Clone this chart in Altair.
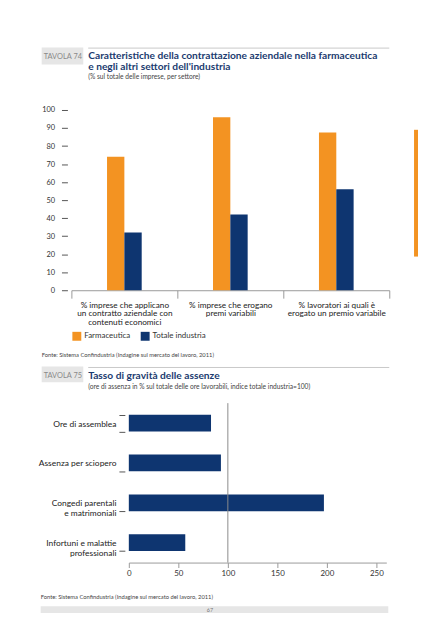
import altair as alt
import pandas as pd

FONT = "Lato"
ORANGE = "#f39322"
NAVY = "#0e3570"
TITLE_NAVY = "#1b3b6f"

# ---- Tavola 74 data ----
top_categories = [
    "% imprese che applicano|un contratto aziendale con|contenuti economici",
    "% imprese che erogano|premi variabili",
    "% lavoratori ai quali è|erogato un premio variabile",
]
series_names = ["Farmaceutica", "Totale industria"]
farmaceutica = [74, 96, 87.5]
totale_industria = [32, 42, 56]

# ---- Tavola 75 data ----
absence_categories = [
    "Ore di assemblea",
    "Assenza per sciopero",
    "Congedi parentali|e matrimoniali",
    "Infortuni e malattie|professionali",
]
absence_values = [83, 93, 197, 57]
reference_value = [100]

top_df = pd.DataFrame({
    "cat": top_categories * 2,
    "series": [series_names[0]] * 3 + [series_names[1]] * 3,
    "value": farmaceutica + totale_industria,
})
bottom_df = pd.DataFrame({"cat": absence_categories, "value": absence_values})
ref_df = pd.DataFrame({"v": reference_value})


def label(text, x, y, size, color, weight="normal", align="left", baseline="alphabetic"):
    return alt.Chart(pd.DataFrame({"t": [text]})).mark_text(
        align=align, baseline=baseline, fontSize=size, color=color,
        fontWeight=weight, font=FONT
    ).encode(x=alt.value(x), y=alt.value(y), text="t:N")


def box(x, x2, y, y2, color):
    return alt.Chart(pd.DataFrame({"d": [0]})).mark_rect(color=color).encode(
        x=alt.value(x), x2=alt.value(x2), y=alt.value(y), y2=alt.value(y2)
    )


def hline(x, x2, y, color):
    return alt.Chart(pd.DataFrame({"d": [0]})).mark_rule(color=color, strokeWidth=1).encode(
        x=alt.value(x), x2=alt.value(x2), y=alt.value(y)
    )


# ---------------- Top chart ----------------
bars_top = alt.Chart(top_df).mark_bar().encode(
    x=alt.X("cat:N", sort=top_categories,
            scale=alt.Scale(paddingInner=0, paddingOuter=0),
            axis=alt.Axis(title=None, labelAngle=0, domainColor="#9a9a9a", tickColor="#9a9a9a",
                          tickBand="extent", tickSize=8, labelPadding=2, labelFontSize=8.3,
                          labelColor="#222", labelExpr="split(datum.label, '|')",
                          labelLineHeight=9, labelBaseline="top")),
    xOffset=alt.XOffset("series:N", sort=series_names,
                        scale=alt.Scale(paddingInner=0, paddingOuter=0, range=[36, 71])),
    y=alt.Y("value:Q", scale=alt.Scale(domain=[0, 100]),
            axis=alt.Axis(title=None, values=list(range(0, 101, 10)), domain=False, grid=False,
                          tickSize=6, offset=4, tickColor="#555", labelPadding=7,
                          labelFontSize=7.5, labelColor="#333")),
    color=alt.Color("series:N",
                    scale=alt.Scale(domain=series_names, range=[ORANGE, NAVY]),
                    legend=alt.Legend(title=None, orient="none", legendX=1, legendY=224,
                                      direction="horizontal", symbolType="square",
                                      symbolSize=81, symbolStrokeWidth=0, labelFontSize=8,
                                      labelColor="#333", labelOffset=3, columnPadding=10)),
)

top = alt.layer(
    box(-30, 12, -63, -46, "#e6e6e6"),
    label("TAVOLA 74", -28, -51.5, 7.5, "#8a8a8a"),
    hline(17, 321, -62.5, "#c8c8c8"),
    label("Caratteristiche della contrattazione aziendale nella farmaceutica", 17, -51, 10.3,
          TITLE_NAVY, weight="bold"),
    label("e negli altri settori dell'industria", 17, -40, 10.3, TITLE_NAVY, weight="bold"),
    label("(% sul totale delle imprese, per settore)", 17, -31, 6.7, "#444"),
    bars_top,
    label("Fonte: Sistema Confindustria (Indagine sul mercato del lavoro, 2011)", -30, 249, 5.85, "#444"),
    box(346, 350, 20, 148, ORANGE),
).properties(width=321, height=182)

# ---------------- Bottom chart ----------------
bars_bottom = alt.Chart(bottom_df).mark_bar(color=NAVY).encode(
    y=alt.Y("cat:N", sort=absence_categories,
            scale=alt.Scale(paddingInner=0.58, paddingOuter=0.29),
            axis=alt.Axis(title=None, domain=False, tickBand="extent", tickSize=6, offset=-54,
                          tickColor="#555", labelPadding=3, labelFontSize=8.5, labelColor="#222",
                          labelExpr="split(datum.label, '|')", labelLineHeight=9.5)),
    x=alt.X("value:Q", scale=alt.Scale(domain=[0, 250], range=[58, 318]),
            axis=alt.Axis(title=None, values=[0, 50, 100, 150, 200, 250], grid=False,
                          domainColor="#9a9a9a", tickColor="#9a9a9a", tickSize=5,
                          labelPadding=2, labelFontSize=8, labelColor="#333", labelFlush=False)),
)
rule = alt.Chart(ref_df).mark_rule(color="#8c8c8c", strokeWidth=1).encode(x="v:Q")

bottom = alt.layer(
    box(-30, 12, -37, -21, "#e6e6e6"),
    label("TAVOLA 75", -28, -25.5, 7.5, "#8a8a8a"),
    hline(17, 321, -36, "#c8c8c8"),
    label("Tasso di gravità delle assenze", 17, -24.5, 10.3, TITLE_NAVY, weight="bold"),
    label("(ore di assenza in % sul totale delle ore lavorabili, indice totale industria=100)",
          17, -14.5, 6.7, "#444"),
    bars_bottom,
    rule,
    label("Fonte: Sistema Confindustria (Indagine sul mercato del lavoro, 2011)", -31, 198, 5.85, "#444"),
    box(-31, 320, 205, 212, "#e6e6e6"),
    label("67", 140, 210.5, 5.5, "#777", align="center"),
).properties(width=318, height=161)

chart = alt.vconcat(top, bottom, spacing=114, bounds="flush").properties(
    padding={"left": 30, "top": 37, "right": 0, "bottom": 5}
).configure(font=FONT).configure_view(strokeWidth=0).configure_axis(
    labelFont=FONT
).configure_legend(labelFont=FONT)

chart.save("out.html", embed_options={"renderer": "svg", "actions": False})
